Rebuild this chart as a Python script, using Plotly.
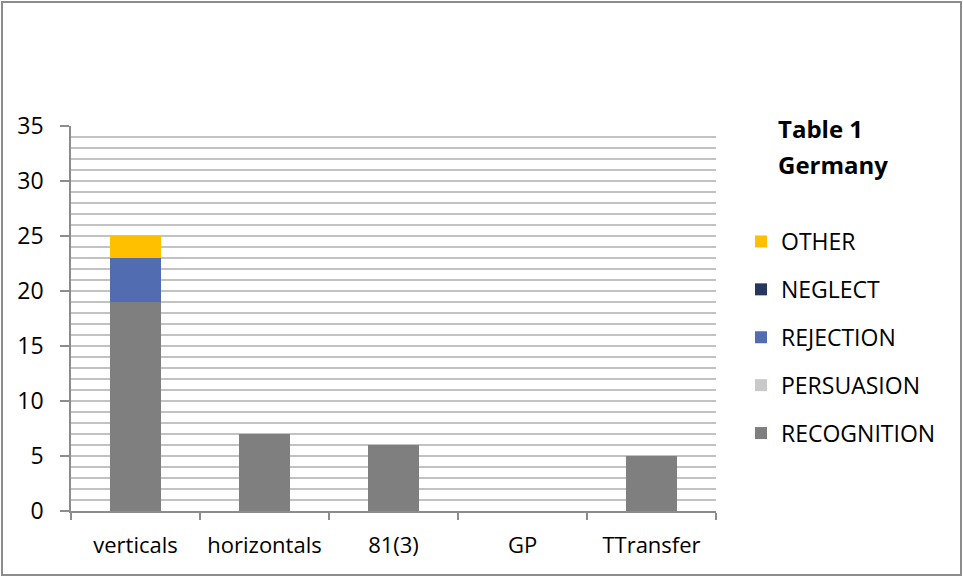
import plotly.graph_objects as go

categories = ["verticals", "horizontals", "81(3)", "GP", "TTransfer"]
recognition = [19, 7, 6, 0, 5]
persuasion = [0, 0, 0, 0, 0]
rejection = [4, 0, 0, 0, 0]
neglect = [0, 0, 0, 0, 0]
other = [2, 0, 0, 0, 0]

series = [
    ("RECOGNITION", recognition, "#7f7f7f"),
    ("PERSUASION", persuasion, "#c9c9c9"),
    ("REJECTION", rejection, "#516cb0"),
    ("NEGLECT", neglect, "#26365c"),
    ("OTHER", other, "#ffc000"),
]

W, H = 963, 577
L, R, T, B = 71, 247, 126, 66
pw, ph = W - L - R, H - T - B

FONT = "Open Sans"
fig = go.Figure()
n = len(series)
for i, (name, vals, color) in enumerate(series):
    fig.add_trace(go.Bar(
        x=categories, y=vals, name=name, legendgroup=name,
        legendrank=n - i,
        marker=dict(color=color, line=dict(width=0)),
    ))

def px(x):
    return (x - L) / pw

def py(y):
    return 1 - (y - T) / ph

# outer frame of the chart
fig.add_shape(type="rect", xref="paper", yref="paper",
              x0=px(2), x1=px(961), y0=py(2), y1=py(575),
              line=dict(color="#8c8c8c", width=2), fillcolor="rgba(0,0,0,0)")

for txt, yy in [("Table 1", 128), ("Germany", 164)]:
    fig.add_annotation(text="<b>" + txt + "</b>", xref="paper", yref="paper",
                       x=px(776), y=py(yy), xanchor="left", yanchor="middle",
                       showarrow=False, font=dict(family=FONT, size=24, color="#000"))

fig.update_layout(
    width=W, height=H,
    margin=dict(l=L, r=R, t=T, b=B, autoexpand=False),
    barmode="stack", bargap=0.6,
    plot_bgcolor="white", paper_bgcolor="white",
    font=dict(family=FONT, size=23, color="#000"),
    showlegend=True,
    legend=dict(x=px(741), y=py(220), xanchor="left", yanchor="top",
                traceorder="grouped", tracegroupgap=15,
                font=dict(family=FONT, size=23, color="#000"),
                bgcolor="rgba(0,0,0,0)"),
    xaxis=dict(showline=True, linecolor="#8c8c8c", linewidth=1.5,
               ticks="outside", ticklen=7, tickcolor="#8c8c8c", tickwidth=1.5,
               tickson="boundaries", showgrid=False, fixedrange=True,
               tickangle=0, automargin=False, ticklabelstandoff=14,
               tickfont=dict(family=FONT, size=22)),
    yaxis=dict(range=[0, 35], dtick=5, showline=True, linecolor="#8c8c8c",
               linewidth=1.5, ticks="outside", ticklen=9, tickcolor="#8c8c8c",
               tickwidth=1.5, showgrid=True, gridcolor="#c2c2c2", gridwidth=1.6,
               minor=dict(dtick=1, showgrid=True, gridcolor="#c2c2c2", gridwidth=1.6),
               zeroline=False, ticklabelstandoff=12, automargin=False,
               tickfont=dict(family=FONT, size=23)),
)

fig.write_html("out.html")
